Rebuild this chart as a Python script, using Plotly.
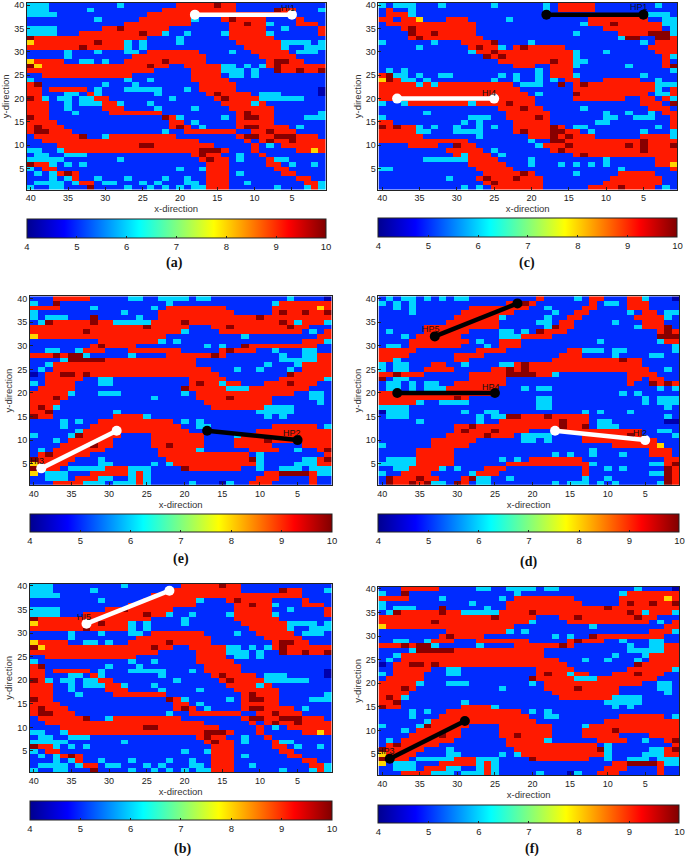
import re

import plotly.graph_objects as go

W, H = 685, 856

# cell classes, value on the 4-10 colour scale
CELL_VALUES = {"B": 5.0, "C": 6.0, "R": 9.1, "D": 9.95, "Y": 8.0, "N": 4.2}

X_CELLS = list(range(40, 0, -1))
Y_CELLS = list(range(40, 0, -1))

# run lengths per row, top row (y=40) first, going from x=40 to x=1
FIELD_AB = [
    "3C9B1C7B5R1D2R12B",
    "3C5B1C9B10R5B1D2R3B1C",
    "4C12B20R4B",
    "9B1C5B7R1C3B1R1D4R4B1R3B",
    "13B9R5B2R1D2R1C3B3R1B",
    "4C6B2R1D6R8B5R2B1C4B1R",
    "4C3B8R1D2R1C2B1C4B1C5R1C6B1R",
    "1D15R4B1C6B6R7B",
    "1Y8R1D3R1C1B1C4B1C7B6R4C1B1C",
    "7R1D5R1C1B1C13B5R1C2B3C",
    "5B1C3B1C3B2C1B7R4B1C2B5R1B3C1B",
    "5B1C8B10R7B5R4B",
    "1Y4R2B2C1B1C2B5R1D5R8B1R2D2R3B",
    "1D1Y14R1D2R2B5R2C1B1C1B1C1R1D6R",
    "17R5B4R3C1B1C2B1D2R1D2R1D",
    "2B12R8B4R1B2C1B1C9B",
    "1C12B1C2B1C5B5R13B",
    "1R1D8B1C3B1C8B5R12B",
    "2R1B5R1B1C3B5C3B1C1B5R11B1N",
    "2R3B2C1B1R1C7B1C6B1R1D4R1B3C5B1N",
    "1D1R1C1B2C1B2C2R8B1C5B1R1D4R6C3B",
    "3R2B1C1B3C2R1C3B1C9B4R1C1R8B",
    "3R2B1C4B3R4B1C4B1C4B6R7B",
    "3R3B1C4B7R10B1R1D3R6B1C",
    "1D2R15B1D1R1C5B1C1B1R2D2R4B3C",
    "4R15B2R1B1C5B5R7B",
    "1R1D3R14B1R1D1R1B1C4B1R2D4R1B1C3B",
    "1R2D3R12B1C2B7R2B2R1D3R4B",
    "1B6R1D2B1C9R8B1R2D2R3D3R1B",
    "2B21R6B1R1B1R1D2R1D4R",
    "4B11R2D8R5B1R1B1C1B6R",
    "2C2B1C18R3D1R3B1R5B2R1Y1R",
    "1B2C2B3C14B1R1D2R2B1C2B1R8B",
    "5C7B1C10B1R1D2R1B1C3B1R2C5B",
    "1D2R1C1B1C1B1C16B3R5B2R1B1C2B1C1B",
    "1C1B2R16B1C2B1C3R6B2R5B",
    "1B1C1B1C1R1D1R17B3R1B1C5B2R4B",
    "3B1C1B1C1R2B1C3B1C4B1C2B1C2B3R9B2R2B",
    "1B4C1B1C2R1B2C3B1C1B1C3B2C1B3R2B1C7B2R1C",
    "1C2B2C3B1D4B1C2B1C1B1C1B1C1B2C3R6B1C3B1C1R1C",
]

FIELD_C = [
    "1C1B3C3B1C6B1C6B1C1B5R8B1C2B",
    "1B1R2B1C17B1C1B5R11B",
    "1B3R1C31B3C1B",
    "2R1B2R1Y3B3R5B1C10B8R2B2C",
    "1B12R14B1C3R1D6R2C",
    "3B1R1D8R16B1B8R1B1C",
    "4B1D2R1D5R13B1C5B4R3D1C",
    "4B1R1D8R18B1C2D2B2D1R",
    "1C6B1C3B4R1D4B1C14B1C1B3R",
    "5B1C6B1R1D2R1C1B1R1D5R11B4R",
    "12B1C2R1D10R1C3B1C6B3R",
    "14B1D1R1D9R1C11B1R1C",
    "16B7R1D2R2C10B1R1B",
    "18B3R2B3R1C6B1C4B1R1D",
    "1B1C1B1C17B1C1B3R13B1C",
    "1R1D2C1B1C2B2C6B1C1B1C2B1C1B3R1C8B1C4B",
    "1Y1D1R2C1B1C8B1C2B1C2B1C1B1C1B2R3B5R2B1C2B",
    "5R1C1R1C10R1B3C2B1D1B1R1D9R3C",
    "19R7B11R1C1B1R",
    "20R1B1C4B1D9R1B2C1R",
    "21R5B7R2B1R1R1B1R1C",
    "1C2B1C8R1C4R1D3R14B3R1B1D",
    "16B3R1D2R5B1C8B3R1B",
    "6B1C10B6R7B1C2B1C2B1C1B2R",
    "1C11B3C2B4R1D1R7B2C2B3C2B1R",
    "2R9B1C1B1C4B5R6B2C8B1R",
    "1D1R1D2R1C1B1C2B1C2B1C1B1C2B5R1D1R1B2C9B1C1B1R",
    "5R2C3B4C4B1R1D3R2D2R1B1C6B1C3B1C",
    "6R7B1C6B3R1D1R1D3R6B4R1C",
    "12R8B1C2B2D10R1D4R",
    "4B4R2B1D2R8B1C3R1D7R1D1R1D3R1D",
    "9B5R1B1C7B1R1D10R1D4R",
    "10B1R1C3R1B1C9B1R1D12R",
    "6B6C4R4B1C9B1C6B3R",
    "12B5R3B1C3B1C1B1C1B1C1B1C6B2R1Y",
    "2C11B5R14B1C6B1R",
    "14B5R1D1R5B1C5B5R3B",
    "9B1C3B1R1D3R1D3R9B7R2B",
    "14B1R1D6R8B8R2B",
    "11B1C1B1C1B7R6B4R1D4R1B1C1B",
]

FIELD_EF = [
    "3B5R5B2C2B4C1B2C10B1C4B1N",
    "1C2B1D14B1C13B1C7R",
    "4R4B1C7B1C1B8R6B6R1Y1R",
    "1C11B1C4B10R5B1R1D2R1D2R1D",
    "1C1B3C3B1D5B1C2B13R1D9R",
    "1B1C1D5R1D2R3C2C4R1D12R1D1R1C3R1C",
    "15R1D5R3B2R1D7R1D2R3B",
    "7R1D12R1C4B11R1B1C1B1R",
    "1Y17R10B1C9B2R",
    "9B8R1C1B1C16B3R1C",
    "8B1R1D4R9B1C1B1C2B1D9R2B",
    "2B2C2B1C3R3B7R5B1R1D3R2B1C3B2C2B",
    "3R1D1R2D1C5B1C4B6R1D1R7B1C2B2C2R",
    "4B1C5D12R11B5C2R",
    "2B1C19R9B1C3B1C4R",
    "1B1C1B21R3B1C2B1C3B1C1B4R",
    "1N1B2R2D1R1D17R9B1D5R",
    "2B5R2B2C10B5R7B6R1C",
    "1C1B4R3B2C10B1R1D2R1C2R3B3R1D3R2B",
    "1B5R14B1D5R3C8R3B",
    "5R1C3B3C8B1C1B13R2B2C1B",
    "3R1D1R11B1C5B4R1D5R5B2C1B",
    "4R19B9R6B1C1B",
    "1R1D1R1C20B7R4C5B",
    "2R1D8B1C18B2C3C5B",
    "1D2R8B4R1C15B1C1B1C6B",
    "4B1C1B1C2B10R1B1C1B1C17B",
    "4B1C3B12R2B2C8B6R1B1C",
    "6B1C14R9B10R",
    "1C4B1C1D5R4B7R4B1C12R",
    "3B1C1B6R5B7R4B4R1D8R",
    "4B4R1D2R5B2R1D4R4B5R4B4R",
    "1B1C1B7R7B5R1C6B4R2B1C2B1R1D",
    "1B1R1D5R9B12R1B1C8B1R",
    "1D5R3B1C8B11R1D1C5B2C1R1D",
    "1Y4R4B2C5B1C1B1C11R1C4B3C2R",
    "1D3R1B1C4C3R3C4B1D7R2B1C2B3C1B3C",
    "1Y1B3C3B5R1C1R1C15B2R4D1R2C",
    "2B3C1B3R2C2B1C1R1C14B3R4B1R2B",
    "3B4R3C1B3C1R1C5B1C3B1N1C2B3R5B1R2B",
]

FIELD_D = [
    "1B1C1B2C1B1C1B1C1B2C9B1R4B1C1B2R3B2R1C3B1N",
    "1C1B1C1B1C12B2R1D1R7B1R1B2C1B3R4B",
    "2B1C1B1C7B8R2B1C4B2R4B3R4B",
    "4B1C6B7R5B1C2B2R5B1C1B2R1B2C",
    "10B6R1C5B1C2B2R7B4R1C1B",
    "9B7R5B2C1B2R5B1C3B3R2B",
    "6B10R6B1C1D2R8B1C3R1D1B",
    "1B1C4B6R4B2C1B1C1B1D3R12B1R1D1R",
    "3B1C1B6R5B3C4R14B3D",
    "4B8R1B1C2B3R10B1C7B1C2R",
    "1B2C1B7R3B1C1B3R20B1C",
    "5R8B4R8B2R3C1B2C6B1C",
    "4R6B4R10B3R4B1C4B2C2B",
    "2R1C7B2R11B9R1D2R5B",
    "1C1B2C3B2R2B1C4B2C1R1D15R5B",
    "1C1B2C2B4R5B2R1D1R1D16R2B1C1B",
    "2R1D3R6B5R4D2R1C9B4R3B",
    "1D1B2C8B5R16B2R1B2R2B",
    "1B2C1B1C1B2C2B7R16B1R2B1D1R1D1R",
    "1B2C1B1C1B3C7R3B1C1B2C12B2B1C1B1C",
    "16R16B1C1B1C5B",
    "10R1D1R9B2C12B1C1B3C",
    "5R1C2B4C9B2C12B1C1B3C",
    "4C17B2C15B1C1B",
    "1N3C7B1C2B2C11B1C1B1C3B1C6B",
    "1B3C9B1C1B2C2D3R1D5R10B1C1B",
    "5B1C7B1C2B8R1D3R1B2C7B2N",
    "10B2R1D11R1D2R1D1B3C8B",
    "10B1R1D3R1D4R4B11R2B2C1B",
    "9B5R1D3R1B4C4B6R1D1R4B1C",
    "7B6R6B2C1B1C4B9R1R3B",
    "1C6B5R19B6R1Y2B",
    "5B5R18B1C7B3R1B",
    "5B5R13B1C1B1C2B1C3B1C3B3R1B",
    "1B3C1C5R6B1C1B1C1B7R11B2R",
    "5C5R7B11R1C7B2C1R1D",
    "2B2C4R1C1B1C3B3R10B1R2B1C1B1C4B1B1D1R",
    "1C2B4R5B1C3R11B1R8B2C1D1R",
    "1B1D3R1D2R3B1R1D2C2B1C9B1C2B1C7B1D1R",
    "1B1D2R1D1R1D2C1B1D1R1B2C8B1C1B3C1B1C1B1C5B1C1D1R",
]

# well traces, x then y
WELL_A_X, WELL_A_Y = [18, 5], [38, 38]
WELL_C1_X, WELL_C1_Y = [18, 5], [38, 38]
WELL_C2_X, WELL_C2_Y = [38, 25], [20, 20]
WELL_E1_X, WELL_E1_Y = [39, 29], [4, 12]
WELL_E2_X, WELL_E2_Y = [17, 5], [12, 10]
WELL_D1_X, WELL_D1_Y = [33, 22], [32, 39]
WELL_D2_X, WELL_D2_Y = [38, 25], [20, 20]
WELL_D3_X, WELL_D3_Y = [17, 5], [12, 10]
WELL_B_X, WELL_B_Y = [33, 22], [32, 39]
WELL_F_X, WELL_F_Y = [39, 29], [4, 12]

XTICKS = [40, 35, 30, 25, 20, 15, 10, 5]
YTICKS = [5, 10, 15, 20, 25, 30, 35, 40]
CBAR_TICKS = [4, 5, 6, 7, 8, 9, 10]

JET = [[0, "rgb(0,0,143)"], [0.125, "rgb(0,0,255)"], [0.375, "rgb(0,255,255)"],
       [0.625, "rgb(255,255,0)"], [0.875, "rgb(255,0,0)"], [1, "rgb(128,0,0)"]]


def decode(rows):
    grid = []
    for row in rows:
        cells = []
        for n, c in re.findall(r"(\d+)([BCRDYN])", row):
            cells += [CELL_VALUES[c]] * int(n)
        grid.append(cells)
    return grid


# field, plot box in px (l, r, t, b), colour bar box (t, b), caption (x, y),
# wells as (x, y, colour, label, label x, label y)
PANELS = [
    (FIELD_AB, (26, 325, 1, 188), (218, 237), "(a)", (174, 262),
     [(WELL_A_X, WELL_A_Y, "white", "HI1", 5.5, 39.5)]),
    (FIELD_C, (378, 677, 1, 188), (217, 236), "(c)", (527, 262),
     [(WELL_C1_X, WELL_C1_Y, "black", "HP1", 5.6, 39.6),
      (WELL_C2_X, WELL_C2_Y, "white", "HI4", 25.7, 21.3)]),
    (FIELD_EF, (29, 331, 295, 484), (513, 531), "(e)", (180, 558),
     [(WELL_E1_X, WELL_E1_Y, "white", "HI3", 39.6, 5.6),
      (WELL_E2_X, WELL_E2_Y, "black", "HP2", 5.7, 11.5)]),
    (FIELD_D, (378, 679, 295, 484), (513, 531), "(d)", (528, 561),
     [(WELL_D1_X, WELL_D1_Y, "black", "HP5", 33.5, 33.5),
      (WELL_D2_X, WELL_D2_Y, "black", "HP4", 25.5, 21.3),
      (WELL_D3_X, WELL_D3_Y, "white", "HI2", 5.7, 11.5)]),
    (FIELD_AB, (29, 331, 583, 772), (801, 820), "(b)", (182, 849),
     [(WELL_B_X, WELL_B_Y, "white", "HI5", 33.3, 33.5)]),
    (FIELD_EF, (378, 679, 586, 775), (805, 823), "(f)", (532, 849),
     [(WELL_F_X, WELL_F_Y, "black", "HP3", 39.5, 5.6)]),
]

SANS = "Liberation Sans"
fig = go.Figure()
layout = {}
notes = []

for i, (field, box, cbar, caption, cap_pos, wells) in enumerate(PANELS, start=1):
    l, r, t, b = box
    xname, yname = f"x{i}", f"y{i}"
    fig.add_trace(go.Heatmap(
        z=decode(field), x=X_CELLS, y=Y_CELLS, xaxis=xname, yaxis=yname,
        colorscale=JET, zmin=4, zmax=10,
        colorbar=dict(orientation="h", x=l / W, xanchor="left", y=1 - cbar[0] / H, yanchor="top",
                      len=(r - l) / W, lenmode="fraction", thickness=cbar[1] - cbar[0],
                      outlinewidth=1, outlinecolor="#222", tickvals=CBAR_TICKS, ticks="inside",
                      ticklen=2, tickcolor="#222", tickfont=dict(size=9.5, family=SANS, color="#222"),
                      xpad=0, ypad=0),
    ))
    for wx, wy, colour, label, lx, ly in wells:
        fig.add_trace(go.Scatter(
            x=wx, y=wy, xaxis=xname, yaxis=yname, mode="lines+markers", showlegend=False,
            line=dict(color=colour, width=4.5), marker=dict(color=colour, size=10),
        ))
        notes.append(dict(x=lx, y=ly, xref=xname, yref=yname, text=label, showarrow=False,
                          xanchor="center", yanchor="middle",
                          font=dict(size=9, family=SANS, color="#111")))
    axis = dict(showline=True, linecolor="#222", linewidth=1, mirror=True, ticks="inside", ticklen=3,
                tickcolor="#222", showgrid=False, zeroline=False,
                tickfont=dict(size=9, family=SANS, color="#222"))
    layout[f"xaxis{i}"] = dict(axis, domain=[l / W, r / W], anchor=yname, range=[40.5, 0.5],
                               tickvals=XTICKS,
                               title=dict(text="x-direction", standoff=2,
                                          font=dict(size=9.5, family=SANS, color="#333")))
    layout[f"yaxis{i}"] = dict(axis, domain=[1 - b / H, 1 - t / H], anchor=xname, range=[0.5, 40.5],
                               tickvals=YTICKS,
                               title=dict(text="y-direction", standoff=2,
                                          font=dict(size=9.5, family=SANS, color="#333")))
    notes.append(dict(x=cap_pos[0] / W, y=1 - cap_pos[1] / H, xref="paper", yref="paper", text=f"<b>{caption}</b>",
                      xanchor="center", yanchor="middle", showarrow=False,
                      font=dict(size=14, family="Liberation Serif", color="#111")))

fig.update_layout(width=W, height=H, autosize=False, margin=dict(l=0, r=0, t=0, b=0),
                  paper_bgcolor="white", plot_bgcolor="white", showlegend=False,
                  annotations=notes, **layout)

fig.write_html("out.html", config={"displayModeBar": False},
               post_script="document.body.style.margin='0';")
